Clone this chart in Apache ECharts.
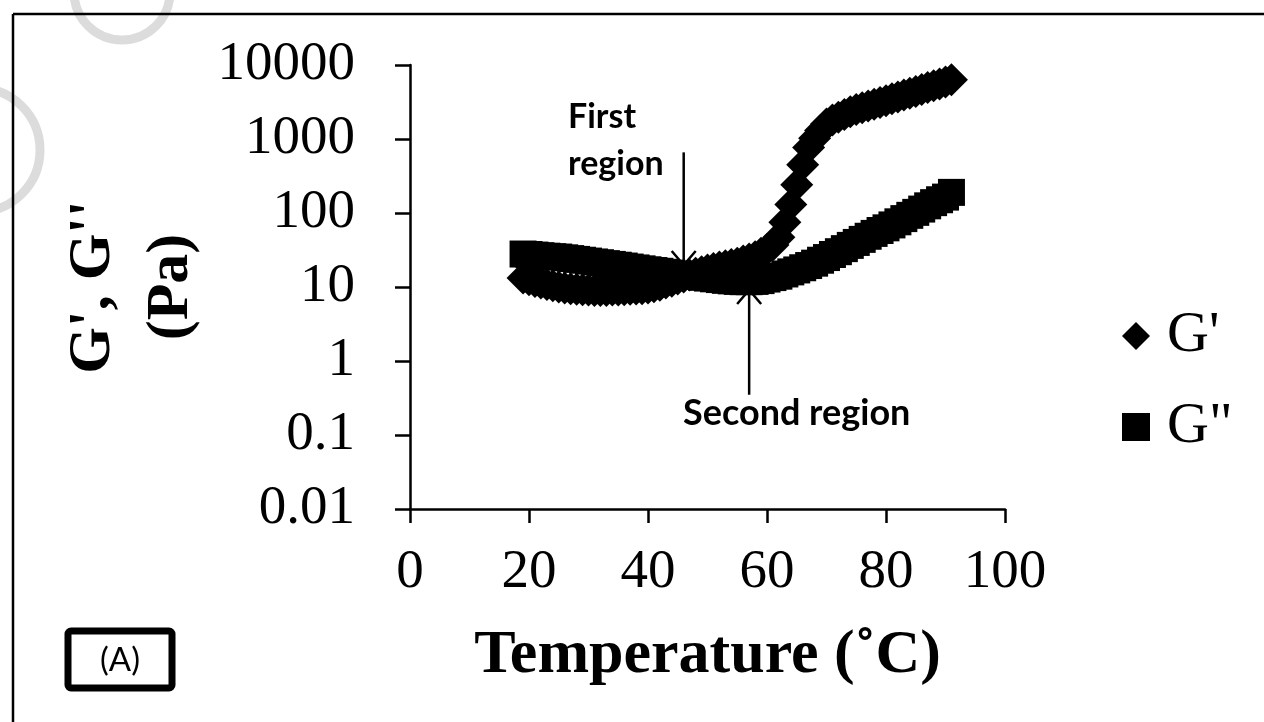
<!DOCTYPE html>
<html>
<head>
<meta charset="utf-8">
<script src="https://cdn.jsdelivr.net/npm/echarts@6/dist/echarts.min.js"></script>
<style>
html,body{margin:0;padding:0;background:#fff;}
#c{width:1264px;height:722px;}
</style>
</head>
<body>
<div id="c"></div>
<script>
// Temperature (°C)
const temps = [19,20,21,22,23,24,25,26,27,28,29,30,31,32,33,34,35,36,37,38,39,40,41,42,43,44,45,46,47,48,49,50,51,52,53,54,55,56,57,58,59,60,61,62,63,64,65,66,67,68,69,70,71,72,73,74,75,76,77,78,79,80,81,82,83,84,85,86,87,88,89,90,91];
// G' (Pa)
const gPrime = [13.2,12.5,11.9,11.3,10.8,10.4,10.0,9.7,9.5,9.3,9.2,9.1,9.0,9.0,9.0,9.1,9.1,9.2,9.3,9.4,9.5,9.7,10.1,10.6,11.3,12.0,12.8,13.7,14.5,15.3,16.1,17.0,17.8,18.6,19.4,20.2,21.0,22.4,23.9,25.6,28.5,32,37,47,75,130,240,450,770,1020,1300,1600,1800,1970,2150,2330,2500,2650,2800,2950,3120,3300,3500,3700,3920,4150,4400,4650,4950,5250,5550,5900,6300];
// G'' (Pa)
const gDouble = [27.9,27.5,27.0,26.5,26.1,25.7,25.4,24.8,24.2,23.6,23.0,22.4,21.8,21.3,20.7,20.2,19.7,19.2,18.6,18.1,17.6,17.1,16.7,16.3,15.8,15.4,15.0,14.6,14.2,13.9,13.5,13.2,12.9,12.6,12.3,12.1,11.9,11.8,11.8,11.9,12.2,12.8,13.4,14.0,15.0,16.0,17.0,18.2,19.5,21.0,23.0,25.0,27.5,30.0,33.0,36.5,40.0,44.0,48.5,53.0,58.0,63.0,69.0,76.0,84.0,93.0,102,113,125,138,151,164,190];
const yTickLabels = ['0.01','0.1','1','10','100','1000','10000'];
const seriesNames = ["G'", 'G"'];
// annotation anchors in data space [T, value]
const firstArrow = {t:46, from:660, to:19.8, text:'First\nregion'};
const secondArrow = {t:57, from:0.35, to:9.1, text:'Second region'};

const serif = "'Liberation Serif','Times New Roman',serif";
const sans = "Lato,'Open Sans',sans-serif";

const chart = echarts.init(document.getElementById('c'), null, {renderer:'canvas'});
const option = {
  animation:false,
  backgroundColor:'#fff',
  grid:{left:410, top:65, width:595, height:444},
  legend:{
    orient:'vertical', left:1117, top:302,
    itemWidth:28, itemHeight:28, itemGap:33,
    textStyle:{fontFamily:serif, fontSize:58, color:'#000', lineHeight:58, padding:[0,0,0,12]},
    itemStyle:{opacity:1},
    data:[{name:seriesNames[0], icon:'diamond'},{name:seriesNames[1], icon:'rect'}]
  },
  xAxis:{
    type:'value', min:0, max:100, interval:20,
    name:'Temperature (˚C)', nameLocation:'middle', nameGap:116,
    nameTextStyle:{fontFamily:serif, fontWeight:'bold', fontSize:62, color:'#000'},
    axisLine:{lineStyle:{color:'#000', width:2.5}},
    axisTick:{length:14, lineStyle:{color:'#000', width:2.5}},
    splitLine:{show:false},
    axisLabel:{fontFamily:serif, fontSize:55, color:'#000', margin:36}
  },
  yAxis:{
    type:'log', logBase:10, min:0.01, max:10000, splitNumber:6,
    name:"G', G''\n(Pa)", nameLocation:'middle', nameRotate:90, nameGap:200,
    nameTextStyle:{fontFamily:serif, fontWeight:'bold', fontSize:60, color:'#000', lineHeight:78, align:'center'},
    axisLine:{show:true, lineStyle:{color:'#000', width:2.5}},
    axisTick:{show:true, length:15, lineStyle:{color:'#000', width:2.5}},
    splitLine:{show:false},
    axisLabel:{fontFamily:serif, fontSize:55, color:'#000', margin:55,
      formatter:function(v){ const k=Math.round(Math.log10(v))+2; return yTickLabels[k]!==undefined?yTickLabels[k]:''; }}
  },
  series:[
    {name:seriesNames[1], type:'scatter', symbol:'rect', symbolSize:27, itemStyle:{color:'#000', opacity:1},
      data:temps.map((t,i)=>[t,gDouble[i]]), z:2},
    {name:seriesNames[0], type:'scatter', symbol:'diamond', symbolSize:33, itemStyle:{color:'#000', opacity:1},
      data:temps.map((t,i)=>[t,gPrime[i]]), z:3}
  ]
};
chart.setOption(option);

function px(t,v){ return chart.convertToPixel({gridIndex:0},[t,v]); }
const a1s = px(firstArrow.t, firstArrow.from), a1e = px(firstArrow.t, firstArrow.to);
const a2s = px(secondArrow.t, secondArrow.from), a2e = px(secondArrow.t, secondArrow.to);
const lineSt = {stroke:'#000', lineWidth:2.5};
chart.setOption({
  graphic:[
    // watermark rings
    {type:'circle', shape:{cx:122, cy:-8, r:48}, style:{fill:'none', stroke:'#dcdcdc', lineWidth:9}, silent:true, z:-1},
    {type:'circle', shape:{cx:-22, cy:150, r:62}, style:{fill:'none', stroke:'#dcdcdc', lineWidth:9}, silent:true, z:-1},
    // frame
    {type:'line', shape:{x1:13, y1:14, x2:1264, y2:14}, style:{stroke:'#000', lineWidth:2.5}},
    {type:'line', shape:{x1:13, y1:14, x2:13, y2:722}, style:{stroke:'#000', lineWidth:2.5}},
    // (A) box
    {type:'rect', shape:{x:68, y:631, width:104, height:57, r:3}, style:{fill:'#fff', stroke:'#000', lineWidth:7}},
    {type:'text', x:120, y:660, style:{text:'(A)', fontFamily:sans, fontSize:33, fill:'#000', align:'center', verticalAlign:'middle'}},
    // first region
    {type:'text', x:568, y:94, style:{text:firstArrow.text, fontFamily:sans, fontWeight:'bold', fontSize:34, lineHeight:47, fill:'#000', align:'left', verticalAlign:'top'}},
    {type:'line', shape:{x1:a1s[0], y1:a1s[1], x2:a1e[0], y2:a1e[1]}, style:lineSt},
    {type:'polyline', shape:{points:[[a1e[0]-12,a1e[1]-14],[a1e[0],a1e[1]],[a1e[0]+12,a1e[1]-14]]}, style:Object.assign({fill:'none'},lineSt)},
    // second region
    {type:'text', x:683, y:413, style:{text:secondArrow.text, fontFamily:sans, fontWeight:'bold', fontSize:36, fill:'#000', align:'left', verticalAlign:'middle'}},
    {type:'line', shape:{x1:a2s[0], y1:a2s[1], x2:a2e[0], y2:a2e[1]}, style:lineSt},
    {type:'polyline', shape:{points:[[a2e[0]-12,a2e[1]+14],[a2e[0],a2e[1]],[a2e[0]+12,a2e[1]+14]]}, style:Object.assign({fill:'none'},lineSt)}
  ]
});
</script>
</body>
</html>
